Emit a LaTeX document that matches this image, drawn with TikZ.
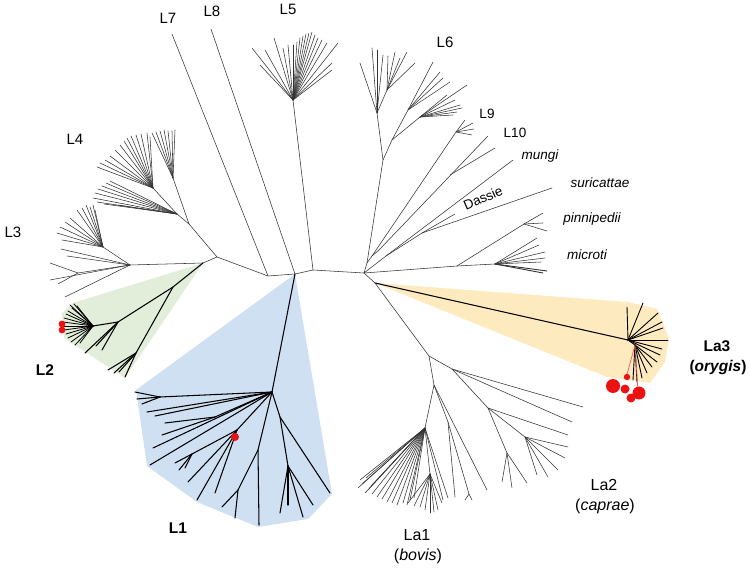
\documentclass[tikz,border=0pt]{standalone}
\usepackage{fontspec}
\setmainfont{Liberation Sans}
\definecolor{shblue}{RGB}{207,224,242}
\definecolor{shgreen}{RGB}{226,237,218}
\definecolor{shorange}{RGB}{253,234,190}
\definecolor{dotred}{RGB}{236,18,18}
\begin{document}
\begin{tikzpicture}[x=1pt,y=-1pt,
  tl/.style={line width=0.55pt,black!80,line cap=round,line join=round},
  tk/.style={line width=1.05pt,black,line cap=round,line join=round},
  lab/.style={inner sep=0pt,font=\fontsize{15}{17}\selectfont},
  labs/.style={inner sep=0pt,font=\fontsize{13.5}{16}\selectfont},
  labi/.style={inner sep=0pt,font=\fontsize{13.5}{16}\selectfont\itshape},
  labl/.style={inner sep=0pt,font=\fontsize{16}{18}\selectfont},
  labb/.style={inner sep=0pt,font=\fontsize{15.5}{18}\selectfont\bfseries},
  rdot/.style={fill=dotred}]
\useasboundingbox (0,0) rectangle (750,569);
% ---------- shaded clades ----------
\fill[shgreen] (203,263) -- (73,303) -- (62,313) -- (64,338) -- (125,378) -- cycle;
\fill[shblue] (295,274) -- (136,390) -- (147,466) -- (197,502) -- (258,527) -- (308,519) -- (332,494) -- cycle;
\fill[shorange] (375,283) -- (628,302) -- (657,309) -- (669,338) -- (665,362) -- (650,383) -- (607,377) -- cycle;
% ---------- backbone ----------
\coordinate (j2) at (203,263);
\coordinate (c1) at (217,257);
\coordinate (c2) at (268,276);
\coordinate (c3) at (295,274);
\coordinate (c4) at (313,270);
\coordinate (c5) at (364,273);
\coordinate (c6) at (375,283);
\draw[tl] (j2) -- (c1) -- (c2) -- (c3) -- (c4) -- (c5) -- (c6);
% ---------- L7, L8, L5 ----------
\coordinate (l7e) at (172,34);
\coordinate (l8e) at (211,29);
\coordinate (R5) at (293,100);
\draw[tl] (c2) -- (l7e);
\draw[tl] (c3) -- (l8e);
\draw[tl] (c4) -- (R5);
\foreach \x/\y in {252/48,260/65,265/50,274/38,283/48,288/45,293/45,297/42,300/38,303/36,306/34,309/33,312/32,315/35,318/38,322/40,327/43,338/43,332/70,332/63}
  \draw[tl] (R5) -- (\x,\y);
% ---------- L4 ----------
\coordinate (R4) at (189,224);
\coordinate (n4a) at (177,214);
\coordinate (n4b) at (173,178);
\coordinate (n4c) at (153,188);
\draw[tl] (c1) -- (R4) -- (n4a) -- (n4c);
\draw[tl] (R4) -- (n4b);
\foreach \x/\y in {93/198,95/193,98/189,102/186,106/183,110/181,97/202,104/204,118/205}
  \draw[tl] (n4a) -- (\x,\y);
\foreach \x/\y in {97/167,100/163,105/160,110/156,115/150,120/145,124/141,127/138,131/136,136/135,141/134,147/133,150/137}
  \draw[tl] (n4c) -- (\x,\y);
\foreach \x/\y in {152/133,156/132,160/131,164/130,168/131,172/131,175/130}
  \draw[tl] (n4b) -- (\x,\y);
% ---------- L3 ----------
\coordinate (R3) at (130,265);
\coordinate (r3a) at (78,273);
\coordinate (r3b) at (103,247);
\draw[tl] (j2) -- (R3) -- (r3a);
\draw[tl] (R3) -- (r3b);
\foreach \x/\y in {50/263,58/284}
  \draw[tl] (r3a) -- (\x,\y);
\foreach \x/\y in {65/297,67/256,61/249,50/280}
  \draw[tl] (R3) -- (\x,\y);
\foreach \x/\y in {57/233,60/227,65/222,70/218,77/210,82/208,86/205,90/207,93/205,95/210,62/240}
  \draw[tl] (r3b) -- (\x,\y);
% ---------- L2 (green) ----------
\coordinate (l2a) at (173,287);
\coordinate (l2b) at (118,322);
\coordinate (l2c) at (93,326);
\coordinate (l2d) at (136,353);
\draw[tk] (j2) -- (l2a) -- (l2b) -- (l2c);
\draw[tk] (l2a) -- (l2d) -- (125,377);
\foreach \x/\y in {70/305,72/308,68/311,66/314,64/318,63/322,63/326,64/330,66/334,68/338,71/342,75/345,80/343,74/304,77/306}
  \draw[tk,line width=0.8pt] (l2c) -- (\x,\y);
\foreach \x/\y in {85/353,102/350,96/346}
  \draw[tk] (l2b) -- (\x,\y);
\foreach \x/\y in {108/370,114/373,119/372}
  \draw[tk] (l2d) -- (\x,\y);
\fill[rdot] (62,324) circle (3.4);
\fill[rdot] (62,330) circle (3.4);
% ---------- L1 (blue) ----------
\coordinate (T) at (272,392);
\coordinate (tA) at (160,397);
\coordinate (tB) at (215,417);
\coordinate (U) at (237,430);
\coordinate (tC) at (192,454);
\coordinate (V) at (258,450);
\coordinate (W) at (238,490);
\coordinate (X) at (280,417);
\coordinate (Y) at (288,466);
\draw[tk] (c3) -- (T);
\foreach \x/\y in {147/412,155/416,153/448,150/465}
  \draw[tk] (T) -- (\x,\y);
\draw[tk] (T) -- (tA);
\foreach \x/\y in {135/392,137/399,142/404}
  \draw[tk] (tA) -- (\x,\y);
\draw[tk] (T) -- (tB);
\foreach \x/\y in {165/423,162/435}
  \draw[tk] (tB) -- (\x,\y);
\draw[tk] (T) -- (U);
\foreach \x/\y in {188/482,197/500,215/493}
  \draw[tk] (U) -- (\x,\y);
\draw[tk] (U) -- (tC);
\foreach \x/\y in {175/463,179/470,185/468}
  \draw[tk] (tC) -- (\x,\y);
\draw[tk] (T) -- (V) -- (259,525);
\draw[tk] (V) -- (W);
\foreach \x/\y in {222/507,235/518}
  \draw[tk] (W) -- (\x,\y);
\draw[tk] (T) -- (X) -- (330,493);
\draw[tk] (X) -- (Y);
\foreach \x/\y in {280/513,288/505,303/517,313/505}
  \draw[tk] (Y) -- (\x,\y);
\fill[rdot] (235,437) circle (4);
% ---------- L6, L9, L10, mungi, Dassie, suricattae ----------
\coordinate (q1) at (367,263);
\coordinate (q2) at (372,256);
\coordinate (q3) at (379,250);
\coordinate (m0) at (386,256);
\coordinate (B6) at (383,160);
\coordinate (C6) at (377,113);
\coordinate (C6b) at (387,90);
\coordinate (D6) at (392,140);
\coordinate (E6) at (408,110);
\coordinate (E6b) at (420,117);
\coordinate (R9) at (456,132);
\coordinate (l10n) at (450,175);
\coordinate (F) at (422,233);
\draw[tl] (c5) -- (q1) -- (B6) -- (C6);
\draw[tl] (B6) -- (D6) -- (E6);
\foreach \x/\y in {360/63,372/48,377/50,383/55}
  \draw[tl] (C6) -- (\x,\y);
\draw[tl] (C6) -- (C6b);
\foreach \x/\y in {388/56,395/52,400/58,407/52,415/63}
  \draw[tl] (C6b) -- (\x,\y);
\foreach \x/\y in {433/62,440/72,443/78,450/82}
  \draw[tl] (E6) -- (\x,\y);
\draw[tl] (D6) -- (E6b);
\foreach \x/\y in {467/85,462/108,453/115,457/112,460/105,447/95,455/100}
  \draw[tl] (E6b) -- (\x,\y);
\draw[tl] (q1) -- (q2) -- (R9) -- (465,120);
\foreach \x/\y in {473/123,474/129,472/135}
  \draw[tl] (R9) -- (\x,\y);
\draw[tl] (q2) -- (q3) -- (488,136);
\draw[tl] (l10n) -- (495,148);
\draw[tl] (c5) -- (m0) -- (513,160);
\draw[tl] (m0) -- (F) -- (552,188);
\draw[tl] (F) -- (455,214);
% ---------- pinnipedii / microti ----------
\coordinate (G) at (457,266);
\coordinate (Rp) at (524,224);
\coordinate (Rm) at (495,264);
\draw[tl] (c5) -- (G) -- (Rp);
\foreach \x/\y in {543/213,543/223,547/231}
  \draw[tl] (Rp) -- (\x,\y);
\draw[tl] (G) -- (Rm);
\foreach \x/\y in {537/238,539/245,545/252,545/258,541/262}
  \draw[tl] (Rm) -- (\x,\y);
\foreach \x/\y in {547/271,543/273}
  \draw[tl,line width=0.9pt] (Rm) -- (\x,\y);
% ---------- La3 (orange) ----------
\coordinate (A3) at (628,340);
\coordinate (A3b) at (635,345);
\draw[tk] (c6) -- (A3);
\foreach \x/\y in {627/307,643/303,658/313,662/322,663/328,668/340,662/349,660/355}
  \draw[tk,line width=0.9pt] (A3) -- (\x,\y);
\draw[tk,line width=0.9pt] (A3) -- (A3b);
\foreach \x/\y in {657/362,652/367,647/373,642/378,637/382,633/380}
  \draw[tk,line width=0.9pt] (A3b) -- (\x,\y);
\draw[dotred!70,line width=0.7pt] (A3b) -- (626,378) (A3b) -- (638,392);
\fill[rdot] (613,386) circle (7);
\fill[rdot] (625,389) circle (4.5);
\fill[rdot] (639,393) circle (6.5);
\fill[rdot] (631,398) circle (4.5);
\fill[rdot] (627,377) circle (3.2);
% ---------- La1 / La2 ----------
\coordinate (H) at (429,356);
\coordinate (I) at (452,369);
\coordinate (K) at (488,408);
\coordinate (L) at (525,437);
\coordinate (M) at (507,453);
\coordinate (N) at (434,385);
\coordinate (P) at (448,422);
\coordinate (Q) at (469,494);
\coordinate (O) at (425,428);
\coordinate (O2) at (430,474);
\draw[tl] (c6) -- (H) -- (I) -- (583,407);
\draw[tl] (I) -- (572,422);
\draw[tl] (I) -- (K) -- (568,435);
\draw[tl] (K) -- (L);
\foreach \x/\y in {568/447,565/458,558/470,548/477,537/475}
  \draw[tl] (L) -- (\x,\y);
\draw[tl] (K) -- (M);
\foreach \x/\y in {502/482,512/488,527/483}
  \draw[tl] (M) -- (\x,\y);
\draw[tl] (H) -- (N) -- (487,490);
\draw[tl] (N) -- (P) -- (Q);
\foreach \x/\y in {465/500,472/500}
  \draw[tl] (Q) -- (\x,\y);
\draw[tl] (P) -- (455,497);
\draw[tl] (N) -- (O);
\foreach \x/\y in {360/480,358/488,362/484,365/493,368/490,372/494,377/497,382/499,387/502,392/503,397/505,403/503,407/505,410/500,414/498,371/486,366/478}
  \draw[tl] (O) -- (\x,\y);
\foreach \x/\y in {443/500,448/498}
  \draw[tl] (O) -- (\x,\y);
\draw[tl] (O) -- (O2);
\foreach \x/\y in {408/503,414/506,420/507,425/510,430/513,434/512,438/510,442/503}
  \draw[tl] (O2) -- (\x,\y);
% ---------- labels ----------
\node[lab] (tL7) at (168,18) {L7};
\node[lab] (tL8) at (212,11) {L8};
\node[lab] (tL5) at (288,9) {L5};
\node[lab] (tL6) at (445,42) {L6};
\node[labs] (tL9) at (487,114) {L9};
\node[labs] (tL10) at (515,133) {L10};
\node[labi] (tmu) at (540,156) {mungi};
\node[labi] (tsu) at (600,183) {suricattae};
\node[labi] (tpi) at (592,219) {pinnipedii};
\node[labi] (tmi) at (587,255) {microti};
\node[labs,rotate=24] (tda) at (483,198) {Dassie};
\node[lab] (tL4) at (75,139) {L4};
\node[lab] (tL3) at (13,232) {L3};
\node[labb] (tL2) at (45,370) {L2};
\node[labb] (tL1) at (178,528) {L1};
\node[labl] (tLa1) at (417,535) {La1};
\node[labl] (tbov) at (418,556) {(\textit{bovis})};
\node[labl] (tLa2) at (604,485) {La2};
\node[labl] (tcap) at (605,506) {(\textit{caprae})};
\node[labb] (tLa3) at (717,346) {La3};
\node[labb] (tory) at (718,367) {(\textit{orygis})};
\end{tikzpicture}
\end{document}
